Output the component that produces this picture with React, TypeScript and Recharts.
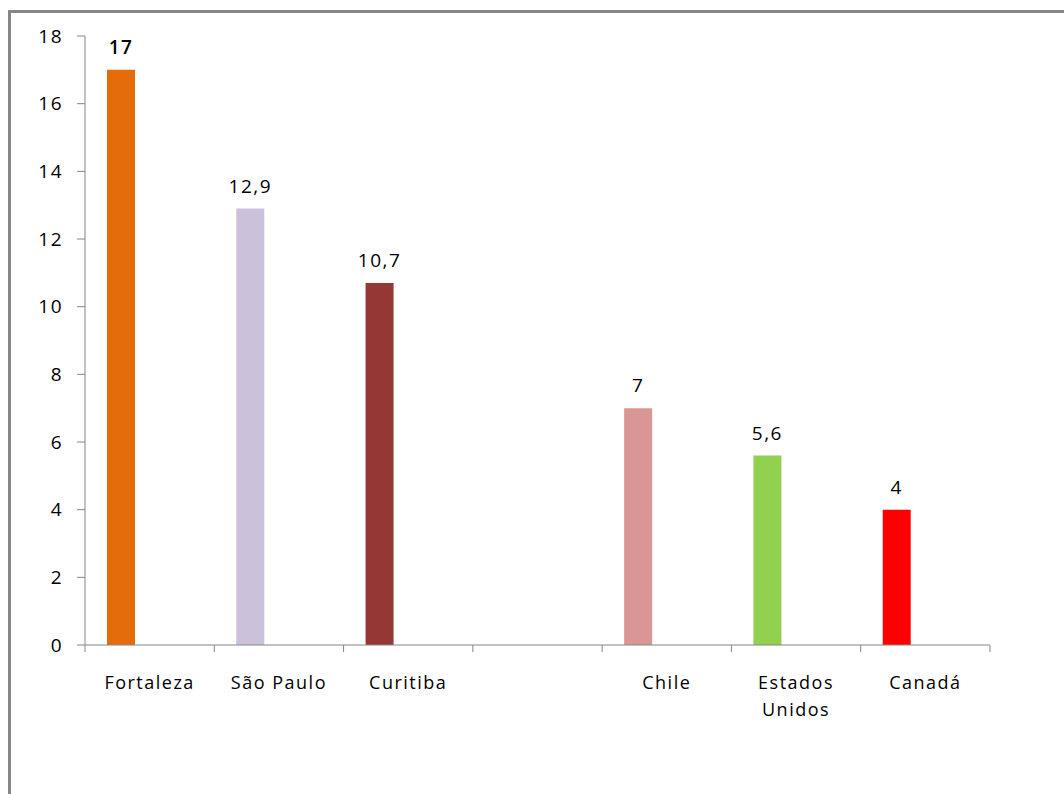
import React from 'react';
import { BarChart, Bar, XAxis, YAxis, Cell, LabelList } from 'recharts';

const categories = ['Fortaleza', 'São Paulo', 'Curitiba', '', 'Chile', 'Estados Unidos', 'Canadá'];
const categoryLines = [['Fortaleza'], ['São Paulo'], ['Curitiba'], [''], ['Chile'], ['Estados', 'Unidos'], ['Canadá']];
const values = [17, 12.9, 10.7, null, 7, 5.6, 4];
const colors = ['#E46C0A', '#CCC1DA', '#953735', '#FFFFFF', '#D99694', '#92D050', '#FF0000'];
const yTicks = [0, 2, 4, 6, 8, 10, 12, 14, 16, 18];

const data = categories.map((name, i) => ({ name, value: values[i], empty1: null, empty2: null }));

const FONT = '"Open Sans", "Noto Sans", sans-serif';
const AXIS = '#868686';

const fmt = (v: any) => (v == null ? '' : String(v).replace('.', ','));

function XTick(props: any) {
  const { x, y, payload, index } = props;
  const half = payload.offset ?? 905 / 14;
  const left = x - half;
  const lines = categoryLines[index] ?? [String(payload.value)];
  return (
    <g>
      <line x1={left} y1={y - 8} x2={left} y2={y - 1} stroke={AXIS} strokeWidth={1} />
      {index === categories.length - 1 && (
        <line x1={x + half} y1={y - 8} x2={x + half} y2={y - 1} stroke={AXIS} strokeWidth={1} />
      )}
      {lines.map((w, i) => (
        <text key={i} x={x} y={y + 36 + i * 27} textAnchor="middle" fill="#000"
          fontSize={18} fontFamily={FONT} letterSpacing={1.5}>
          {w}
        </text>
      ))}
    </g>
  );
}

function ValueLabel(props: any) {
  const { x, y, width, value, index } = props;
  if (value == null) return null;
  return (
    <text x={x + width / 2} y={y - 16} textAnchor="middle" fill="#000" fontSize={19}
      fontFamily={FONT} letterSpacing={1.5} fontWeight={index === 0 ? 600 : 400}>
      {fmt(value)}
    </text>
  );
}

export default function App() {
  return (
    <div style={{ position: 'absolute', left: 0, top: 0, width: 1064, height: 794, background: '#fff', overflow: 'hidden' }}>
      <div style={{ position: 'absolute', left: 8, top: 10, width: 1100, height: 800,
        borderLeft: `3px solid ${AXIS}`, borderTop: `3px solid ${AXIS}` }} />
      <div style={{ position: 'absolute', left: 0, top: 0 }}>
        <BarChart width={1064} height={794} data={data}
          margin={{ top: 36, right: 74, bottom: 69, left: 25 }}
          barCategoryGap={22} barGap={0}>
          <XAxis dataKey="name" height={80} axisLine={{ stroke: AXIS }} tickLine={false}
            interval={0} tick={<XTick />} />
          <YAxis domain={[0, 18]} ticks={yTicks} width={60} axisLine={{ stroke: AXIS }}
            tickLine={{ stroke: AXIS }} tickSize={8} tickMargin={14}
            tick={{ fill: '#000', fontSize: 19, fontFamily: FONT, letterSpacing: 1.5 }} />
          <Bar dataKey="value" isAnimationActive={false}>
            {data.map((_, i) => <Cell key={i} fill={colors[i]} />)}
            <LabelList dataKey="value" content={<ValueLabel />} />
          </Bar>
          <Bar dataKey="empty1" isAnimationActive={false} fill="#fff" />
          <Bar dataKey="empty2" isAnimationActive={false} fill="#fff" />
        </BarChart>
      </div>
    </div>
  );
}
